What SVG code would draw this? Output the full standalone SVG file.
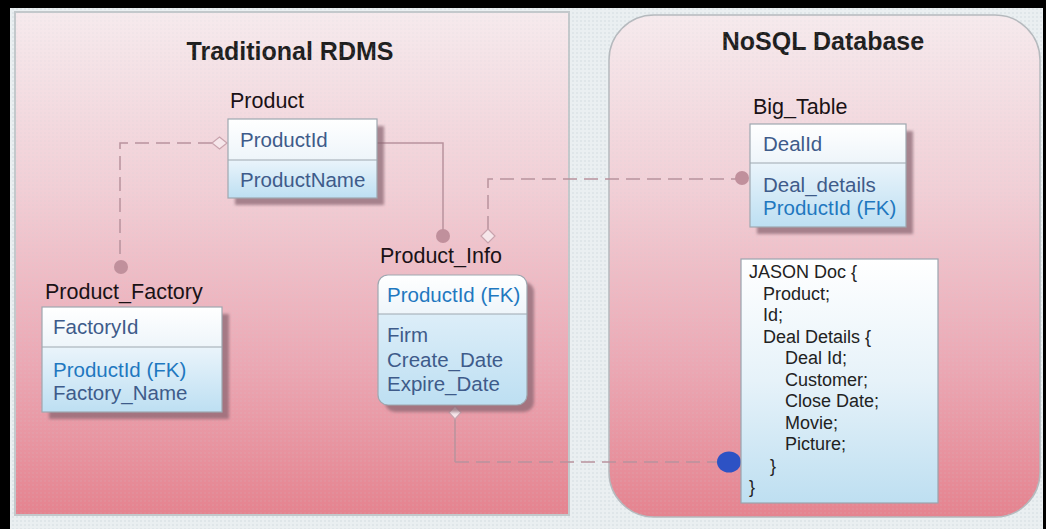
<svg xmlns="http://www.w3.org/2000/svg" width="1046" height="529" viewBox="0 0 1046 529">
<defs>
  <linearGradient id="pink" x1="0" y1="0" x2="0" y2="1">
    <stop offset="0" stop-color="#f6eaed"/>
    <stop offset="0.35" stop-color="#f1cfd6"/>
    <stop offset="0.7" stop-color="#eba8b4"/>
    <stop offset="1" stop-color="#e5838f"/>
  </linearGradient>
  <linearGradient id="row1" x1="0" y1="0" x2="0" y2="1">
    <stop offset="0" stop-color="#ffffff"/>
    <stop offset="1" stop-color="#eef5fa"/>
  </linearGradient>
  <linearGradient id="row2" x1="0" y1="0" x2="0" y2="1">
    <stop offset="0" stop-color="#eaf4fb"/>
    <stop offset="1" stop-color="#bddff2"/>
  </linearGradient>
  <linearGradient id="json" x1="0" y1="0" x2="0" y2="1">
    <stop offset="0" stop-color="#ffffff"/>
    <stop offset="0.5" stop-color="#e6f2f9"/>
    <stop offset="1" stop-color="#bedff1"/>
  </linearGradient>
  <pattern id="dots" width="4" height="4" patternUnits="userSpaceOnUse">
    <circle cx="1" cy="1" r="0.7" fill="#c4ced4"/>
  </pattern>
  <filter id="shadow" x="-10%" y="-10%" width="130%" height="130%">
    <feDropShadow dx="7" dy="7" stdDeviation="1.5" flood-color="#86646e" flood-opacity="0.7"/>
  </filter>
</defs>
<style>
  .title { font-family: "Liberation Sans", Arial, sans-serif; font-weight: bold; font-size: 25px; fill: #1e1e1e; text-anchor: middle; }
  .label { font-family: "Liberation Sans", Arial, sans-serif; font-size: 21.5px; fill: #1a1216; }
  .field { font-family: "Liberation Sans", Arial, sans-serif; font-size: 20.5px; fill: #3e5b8a; }
  .fk { fill: #1f78c0; }
  .json { font-family: "Liberation Sans", Arial, sans-serif; font-size: 18px; fill: #222222; }
  .box { fill: none; stroke: #9ea7b0; stroke-width: 1.2; }
  .conn { fill: none; stroke: #b8939d; stroke-width: 1.5; }
  .dash { stroke-dasharray: 14 7; }
  .dot { fill: #c0909c; }
  .dia { fill: #f6e6ea; stroke: #c9a3ad; stroke-width: 1.2; }
</style>

<rect x="0" y="0" width="1046" height="529" fill="#000000"/>
<rect x="10" y="8" width="1033" height="521" fill="#eaeff1"/>
<rect x="10" y="8" width="1033" height="521" fill="url(#dots)" opacity="0.6"/>

<g id="rdms-panel">
  <rect x="15" y="12" width="554" height="503" fill="url(#pink)" stroke="#c3c8cb" stroke-width="2"/>
  <text class="title" x="290" y="60">Traditional RDMS</text>
</g>
<g id="nosql-panel">
  <rect x="609" y="15" width="431" height="502" rx="45" ry="45" fill="url(#pink)" stroke="#b5b9bd" stroke-width="1.5"/>
  <text class="title" x="823" y="50">NoSQL Database</text>
</g>
<rect x="10" y="8" width="1033" height="521" fill="url(#dots)" opacity="0.25"/>

<g id="connectors">
  <path class="conn dash" d="M212,143 H120 V260"/>
  <circle class="dot" cx="121" cy="267" r="7"/>
  <polygon class="dia" points="212,143 219.5,137 227,143 219.5,149"/>

  <path class="conn" d="M377,143 H443 V230"/>
  <circle class="dot" cx="443" cy="236" r="7"/>

  <path class="conn dash" d="M488,230 V179 H736"/>
  <polygon class="dia" points="488,229 495,236 488,243 481,236"/>
  <circle class="dot" cx="742" cy="178" r="7"/>

  <path class="conn" d="M455,419 V462"/>
  <path class="conn dash" d="M455,462 H718"/>
  <polygon class="dia" points="455,406 461,412.5 455,419 449,412.5"/>
  <ellipse cx="729" cy="462" rx="12" ry="10.5" fill="#2d52c4"/>
</g>

<g id="product">
  <text class="label" x="230" y="108">Product</text>
  <g filter="url(#shadow)">
    <rect x="228" y="119" width="149" height="41" fill="url(#row1)"/>
    <rect x="228" y="160" width="149" height="38" fill="url(#row2)"/>
  </g>
  <rect class="box" x="228" y="119" width="149" height="79"/>
  <line class="box" x1="228" y1="160" x2="377" y2="160"/>
  <text class="field" x="240" y="147">ProductId</text>
  <text class="field" x="240" y="187">ProductName</text>
</g>

<g id="product-factory">
  <text class="label" x="45" y="299">Product_Factory</text>
  <g filter="url(#shadow)">
    <rect x="42" y="307" width="180" height="40" fill="url(#row1)"/>
    <rect x="42" y="347" width="180" height="65" fill="url(#row2)"/>
  </g>
  <rect class="box" x="42" y="307" width="180" height="105"/>
  <line class="box" x1="42" y1="347" x2="222" y2="347"/>
  <text class="field" x="53" y="334">FactoryId</text>
  <text class="field fk" x="53" y="377">ProductId (FK)</text>
  <text class="field" x="53" y="400">Factory_Name</text>
</g>

<g id="product-info">
  <text class="label" x="380" y="263">Product_Info</text>
  <g filter="url(#shadow)">
    <rect x="378" y="275" width="149" height="130" rx="10" ry="10" fill="url(#row2)"/>
    <path d="M378,314 V285 A10,10 0 0 1 388,275 H517 A10,10 0 0 1 527,285 V314 Z" fill="url(#row1)"/>
  </g>
  <rect class="box" x="378" y="275" width="149" height="130" rx="10" ry="10"/>
  <line class="box" x1="378" y1="314" x2="527" y2="314"/>
  <text class="field fk" x="387" y="302">ProductId (FK)</text>
  <text class="field" x="387" y="342">Firm</text>
  <text class="field" x="387" y="367">Create_Date</text>
  <text class="field" x="387" y="391">Expire_Date</text>
</g>

<g id="big-table">
  <text class="label" x="753" y="114">Big_Table</text>
  <g filter="url(#shadow)">
    <rect x="750" y="124" width="156" height="39" fill="url(#row1)"/>
    <rect x="750" y="163" width="156" height="64" fill="url(#row2)"/>
  </g>
  <rect class="box" x="750" y="124" width="156" height="103"/>
  <line class="box" x1="750" y1="163" x2="906" y2="163"/>
  <text class="field" x="763" y="151">DealId</text>
  <text class="field" x="763" y="192">Deal_details</text>
  <text class="field fk" x="763" y="215">ProductId (FK)</text>
</g>

<g id="json-doc">
  <rect x="741" y="259" width="197" height="244" fill="url(#json)" stroke="#9aa4ae" stroke-width="1.2"/>
  <text class="json" x="749" y="278">JASON Doc {</text>
  <text class="json" x="763" y="299.5">Product;</text>
  <text class="json" x="763" y="321">Id;</text>
  <text class="json" x="763" y="342.5">Deal Details {</text>
  <text class="json" x="785" y="364">Deal Id;</text>
  <text class="json" x="785" y="385.5">Customer;</text>
  <text class="json" x="785" y="407">Close Date;</text>
  <text class="json" x="785" y="428.5">Movie;</text>
  <text class="json" x="785" y="450">Picture;</text>
  <text class="json" x="770" y="471.5">}</text>
  <text class="json" x="749" y="493">}</text>
</g>
</svg>
